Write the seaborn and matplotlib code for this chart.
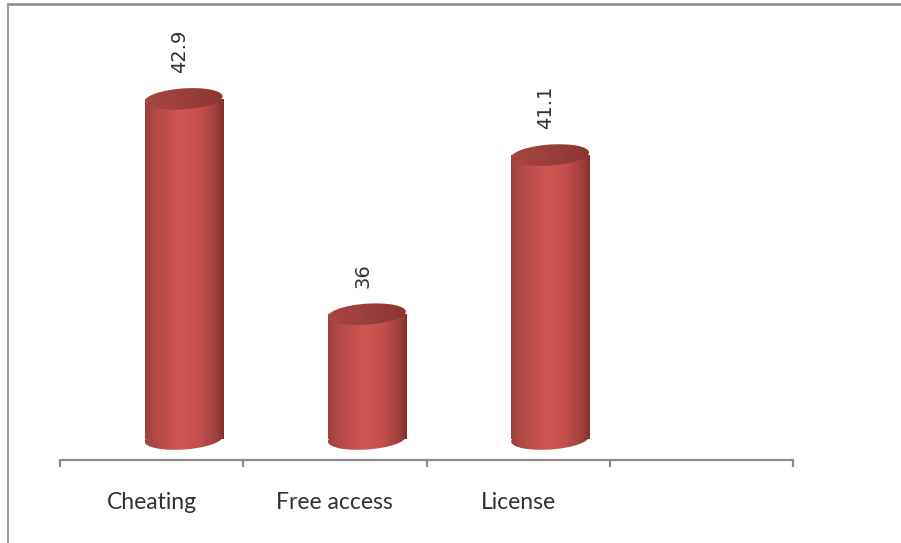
import numpy as np
import pandas as pd
import matplotlib
matplotlib.use("Agg")
import matplotlib.pyplot as plt
import matplotlib.transforms as mtransforms
from matplotlib.patches import Ellipse
from matplotlib.colors import LinearSegmentedColormap
from matplotlib.lines import Line2D
import seaborn as sns

# ---- data ----
categories = ["Cheating", "Free access", "License"]
values = [42.9, 36.0, 41.1]
n_slots = 4          # the category axis has one empty slot on the right
axis_min = 32.0      # value axis minimum (bar base)

sns.set_style("white")

W, H = 901, 543
fig = plt.figure(figsize=(W / 100, H / 100), dpi=100)
fig.patch.set_facecolor("white")

# front axes: category axis line + labels
axf = fig.add_axes([60 / W, (H - 460) / H, 733 / W, 300 / H])
# back axes (3D depth offset): holds the cylinders
axb = fig.add_axes([92 / W, (H - 460) / H, 733 / W, 450 / H])
axb.patch.set_alpha(0)

df = pd.DataFrame({"category": categories, "value": values})
sns.barplot(data=df, x="category", y="value", order=categories, ax=axb,
            width=0.426, color="#cd5452", edgecolor="none", saturation=1)

axb.set_xlim(-0.5, n_slots - 0.5)
axb.set_ylim(axis_min - 0.673, axis_min + 13.75)
axb.axis("off")

body_cmap = LinearSegmentedColormap.from_list(
    "body", [(0, "#9c3f3c"), (0.12, "#b04946"), (0.45, "#d05654"),
             (0.7, "#c44f4d"), (0.9, "#a03f3d"), (1, "#83302e")])
cap_cmap = LinearSegmentedColormap.from_list(
    "cap", [(0, "#a84543"), (0.5, "#9a3e3c"), (1, "#8a3533")])
grad = np.linspace(0, 1, 256).reshape(1, -1)

ell_h = 21
ang = 4

def ell_at(x, y, wpx):
    tr = mtransforms.Affine2D() + mtransforms.ScaledTranslation(x, y, axb.transData)
    return Ellipse((0, 0), wpx, ell_h, angle=ang, transform=tr,
                   facecolor="none", edgecolor="none")

for p, v in zip(list(axb.patches), values):
    x0 = p.get_x()
    w = p.get_width()
    top = p.get_y() + p.get_height()
    cx = x0 + w / 2
    wpx = axb.transData.transform((x0 + w, 0))[0] - axb.transData.transform((x0, 0))[0]
    p.set_y(axis_min)
    p.set_height(top - axis_min)
    p.set_visible(False)
    # body
    im = axb.imshow(grad, cmap=body_cmap, aspect="auto",
                    extent=[x0, x0 + w, axis_min - 0.5, top], zorder=2)
    body = plt.Rectangle((x0, axis_min), w, top - axis_min, transform=axb.transData)
    im.set_clip_path(body)
    # bottom rounding
    im2 = axb.imshow(grad, cmap=body_cmap, aspect="auto",
                     extent=[x0, x0 + w, axis_min - 0.6, axis_min + 0.6], zorder=2)
    im2.set_clip_path(ell_at(cx, axis_min, wpx))
    # top cap
    im3 = axb.imshow(grad, cmap=cap_cmap, aspect="auto",
                     extent=[x0, x0 + w, top - 0.6, top + 0.6], zorder=3)
    im3.set_clip_path(ell_at(cx, top, wpx))
    # value label
    axb.annotate(f"{v:g}", (cx, top), xytext=(-3, 19), textcoords="offset points",
                 rotation=90, ha="center", va="bottom", fontsize=14,
                 color="#303030", family="DejaVu Sans")

axb.set_xlim(-0.5, n_slots - 0.5)
axb.set_ylim(axis_min - 0.673, axis_min + 13.75)

# front category axis
axf.set_xlim(-0.5, n_slots - 0.5)
axf.set_ylim(0, 1)
axf.patch.set_alpha(0)
for s in ["top", "right", "left"]:
    axf.spines[s].set_visible(False)
axf.spines["bottom"].set_color("#8c8c8c")
axf.spines["bottom"].set_linewidth(1.6)
axf.set_yticks([])
axf.set_xticks(np.arange(-0.5, n_slots, 1.0))
axf.set_xticklabels([])
axf.tick_params(axis="x", which="major", direction="out", length=5,
                width=1.6, color="#8c8c8c", bottom=True)
axf.set_xticks(np.arange(len(categories)), minor=True)
axf.set_xticklabels(categories, minor=True, fontsize=16.5, color="#303030",
                    family="Lato")
axf.tick_params(axis="x", which="minor", length=0, pad=23)

# outer border lines (top and left)
fig.add_artist(Line2D([8 / W, 1], [1 - 3.5 / H, 1 - 3.5 / H], transform=fig.transFigure,
                      color="#8a8a8a", lw=1.8))
fig.add_artist(Line2D([8 / W, 8 / W], [0, 1 - 3.5 / H], transform=fig.transFigure,
                      color="#9a9a9a", lw=1.5))

fig.savefig("out.png", dpi=100, facecolor="white")
